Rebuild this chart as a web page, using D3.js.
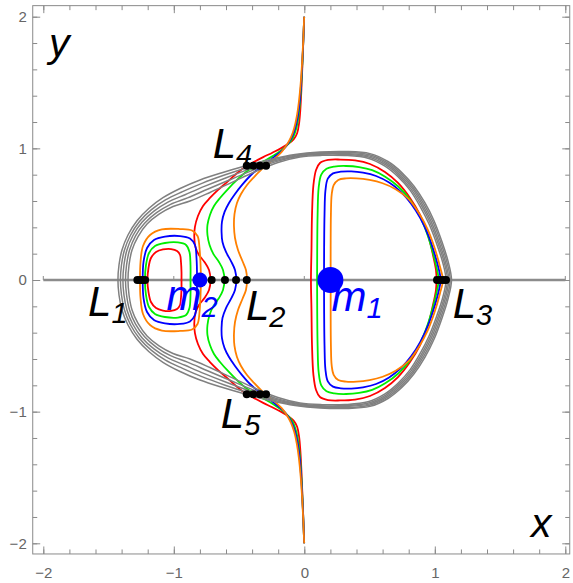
<!DOCTYPE html>
<html><head><meta charset="utf-8">
<script src="https://cdn.jsdelivr.net/npm/d3@7"></script>
<style>body{margin:0;background:#fff}</style>
</head><body>
<svg id="c" width="573" height="583"></svg>
<script>
// ---------- data (upper halves, y >= 0; the figure is symmetric about y = 0) ----------
const xTicks = [-2, -1, 0, 1, 2];
const yTicks = [-2, -1, 0, 1, 2];
const seriesColors = ["#ff0000", "#00ee00", "#0000ff", "#ff8000"];

const redD = [[0.051,0],[0.055,0.228],[0.059,0.494],[0.070,0.722],[0.090,0.836],[0.120,0.889],[0.182,0.912],[0.274,0.915],[0.389,0.908],[0.503,0.881],[0.618,0.820],[0.718,0.737],[0.810,0.623],[0.887,0.494],[0.948,0.342],[0.986,0.190],[1.009,0.076],[1.013,0]];
const greenD = [[0.098,0],[0.099,0.25],[0.102,0.5],[0.110,0.70],[0.13,0.80],[0.17,0.845],[0.23,0.862],[0.32,0.866],[0.42,0.858],[0.52,0.835],[0.62,0.785],[0.72,0.71],[0.81,0.61],[0.885,0.485],[0.945,0.34],[0.99,0.19],[1.018,0.075],[1.030,0]];
const blueD = [[0.151,0],[0.152,0.25],[0.155,0.5],[0.162,0.68],[0.18,0.77],[0.22,0.81],[0.28,0.823],[0.36,0.825],[0.45,0.815],[0.55,0.79],[0.65,0.74],[0.74,0.67],[0.82,0.578],[0.89,0.468],[0.952,0.335],[1.003,0.185],[1.033,0.072],[1.045,0]];
const orangeD = [[0.202,0],[0.202,0.25],[0.204,0.5],[0.210,0.65],[0.225,0.72],[0.26,0.76],[0.32,0.772],[0.40,0.772],[0.50,0.76],[0.60,0.735],[0.70,0.69],[0.80,0.615],[0.88,0.505],[0.945,0.385],[0.998,0.245],[1.04,0.10],[1.062,0]];

const redLoop = [[-1.202,0],[-1.194,0.091],[-1.175,0.167],[-1.136,0.213],[-1.083,0.232],[-1.021,0.235],[-0.975,0.220],[-0.952,0.190],[-0.945,0.137],[-0.941,0.061],[-0.941,0]];
const greenLoop = [[-1.221,0],[-1.213,0.114],[-1.190,0.205],[-1.144,0.258],[-1.068,0.281],[-0.968,0.285],[-0.906,0.266],[-0.880,0.213],[-0.872,0.114],[-0.872,0]];
const blueLoop = [[-1.238,0],[-1.232,0.137],[-1.205,0.243],[-1.152,0.304],[-1.068,0.330],[-0.952,0.334],[-0.876,0.315],[-0.838,0.266],[-0.826,0.167],[-0.822,0]];
const orangeLoop = [[-1.259,0],[-1.255,0.137],[-1.236,0.258],[-1.182,0.342],[-1.091,0.384],[-0.952,0.387],[-0.860,0.376],[-0.818,0.334],[-0.803,0.243],[-0.795,0.114],[-0.792,0]];

const redMid = [[-0.719,0],[-0.730,0.076],[-0.765,0.137],[-0.807,0.190],[-0.834,0.251],[-0.843,0.327],[-0.838,0.403],[-0.815,0.486],[-0.776,0.562],[-0.723,0.623],[-0.661,0.684],[-0.592,0.744],[-0.523,0.805],[-0.454,0.858],[-0.385,0.897],[-0.315,0.933],[-0.245,0.967],[-0.180,1.000],[-0.125,1.033],[-0.082,1.068],[-0.055,1.115],[-0.040,1.190],[-0.030,1.300],[-0.022,1.450],[-0.015,1.620],[-0.008,1.800],[-0.001,2.0]];
const greenMid = [[-0.612,0],[-0.623,0.076],[-0.654,0.137],[-0.696,0.197],[-0.726,0.266],[-0.742,0.342],[-0.742,0.418],[-0.723,0.494],[-0.692,0.562],[-0.646,0.623],[-0.585,0.691],[-0.516,0.760],[-0.447,0.820],[-0.378,0.866],[-0.305,0.905],[-0.235,0.945],[-0.170,0.990],[-0.120,1.035],[-0.085,1.085],[-0.062,1.150],[-0.045,1.240],[-0.032,1.360],[-0.022,1.500],[-0.014,1.660],[-0.007,1.830],[-0.001,2.0]];
const blueMid = [[-0.521,0],[-0.531,0.076],[-0.562,0.144],[-0.600,0.213],[-0.627,0.289],[-0.634,0.365],[-0.631,0.441],[-0.611,0.517],[-0.577,0.585],[-0.531,0.653],[-0.477,0.722],[-0.416,0.790],[-0.355,0.843],[-0.293,0.889],[-0.230,0.935],[-0.170,0.983],[-0.125,1.035],[-0.092,1.092],[-0.068,1.160],[-0.050,1.245],[-0.035,1.360],[-0.024,1.500],[-0.015,1.660],[-0.007,1.830],[-0.001,2.0]];
const orangeMid = [[-0.439,0],[-0.447,0.076],[-0.474,0.144],[-0.508,0.228],[-0.531,0.319],[-0.539,0.410],[-0.535,0.501],[-0.516,0.585],[-0.485,0.653],[-0.439,0.722],[-0.385,0.782],[-0.331,0.836],[-0.278,0.881],[-0.225,0.925],[-0.175,0.972],[-0.135,1.025],[-0.102,1.085],[-0.077,1.155],[-0.058,1.240],[-0.042,1.350],[-0.028,1.490],[-0.017,1.650],[-0.008,1.820],[-0.001,2.0]];

const gray1 = [[-1.428,0],[-1.420,0.114],[-1.397,0.228],[-1.351,0.342],[-1.282,0.450],[-1.190,0.545],[-1.083,0.625],[-0.952,0.695],[-0.799,0.760],[-0.631,0.815],[-0.454,0.866],[-0.263,0.915],[-0.071,0.953],[0.120,0.972],[0.312,0.976],[0.503,0.960],[0.641,0.900],[0.749,0.815],[0.841,0.712],[0.925,0.585],[0.994,0.450],[1.055,0.290],[1.101,0.145],[1.128,0]];
const gray2 = [[-1.409,0],[-1.401,0.114],[-1.378,0.228],[-1.332,0.340],[-1.263,0.444],[-1.171,0.534],[-1.064,0.608],[-0.933,0.671],[-0.780,0.736],[-0.612,0.797],[-0.435,0.855],[-0.248,0.910],[-0.062,0.949],[0.124,0.966],[0.312,0.969],[0.499,0.951],[0.635,0.891],[0.741,0.808],[0.833,0.705],[0.916,0.579],[0.985,0.444],[1.046,0.285],[1.092,0.140],[1.118,0]];
const gray3 = [[-1.390,0],[-1.382,0.114],[-1.359,0.228],[-1.313,0.338],[-1.244,0.438],[-1.152,0.523],[-1.045,0.592],[-0.914,0.648],[-0.761,0.713],[-0.593,0.779],[-0.416,0.844],[-0.233,0.904],[-0.052,0.944],[0.128,0.961],[0.312,0.961],[0.496,0.943],[0.630,0.883],[0.734,0.800],[0.826,0.698],[0.906,0.573],[0.975,0.438],[1.036,0.279],[1.082,0.135],[1.107,0]];
const gray4 = [[-1.370,0],[-1.362,0.114],[-1.339,0.228],[-1.293,0.336],[-1.224,0.431],[-1.132,0.511],[-1.025,0.575],[-0.895,0.624],[-0.742,0.689],[-0.573,0.760],[-0.397,0.833],[-0.217,0.899],[-0.043,0.940],[0.132,0.955],[0.312,0.954],[0.492,0.934],[0.624,0.874],[0.726,0.793],[0.818,0.690],[0.897,0.566],[0.966,0.431],[1.027,0.274],[1.073,0.130],[1.097,0]];
const gray5 = [[-1.351,0],[-1.343,0.114],[-1.320,0.228],[-1.274,0.330],[-1.205,0.425],[-1.113,0.500],[-1.006,0.558],[-0.876,0.600],[-0.723,0.665],[-0.554,0.742],[-0.378,0.822],[-0.202,0.893],[-0.033,0.935],[0.136,0.947],[0.312,0.946],[0.488,0.925],[0.618,0.865],[0.718,0.785],[0.810,0.683],[0.887,0.560],[0.956,0.425],[1.017,0.268],[1.063,0.125],[1.086,0]];

const pointsL1 = [[-1.279,0],[-1.259,0],[-1.238,0],[-1.220,0]];
const pointsL2 = [[-0.710,0],[-0.608,0],[-0.523,0],[-0.441,0]];
const pointsL3 = [[1.017,0],[1.040,0],[1.063,0],[1.086,0]];
const pointsL4 = [[-0.441,0.868],[-0.391,0.868],[-0.340,0.868],[-0.293,0.868]];
const pointsL5 = [[-0.441,-0.868],[-0.391,-0.868],[-0.340,-0.868],[-0.293,-0.868]];
const primaries = [{name:"m", sub:"1", x:0.2, y:0, r:13}, {name:"m", sub:"2", x:-0.8, y:0, r:7.5}];

const labels = [
  {t:"L", s:"1", x:-1.657, y:-0.273, c:"#000"},
  {t:"m", s:"2", x:-1.055, y:-0.228, c:"#0000ff"},
  {t:"L", s:"2", x:-0.447, y:-0.305, c:"#000"},
  {t:"m", s:"1", x:0.208, y:-0.238, c:"#0000ff"},
  {t:"L", s:"3", x:1.137, y:-0.289, c:"#000"},
  {t:"L", s:"4", x:-0.702, y:0.924, c:"#000"},
  {t:"L", s:"5", x:-0.640, y:-1.125, c:"#000"}
];

// ---------- drawing ----------
const svg = d3.select("#c");
const x = d3.scaleLinear().domain([-2, 2]).range([43.3, 565.3]);
const y = d3.scaleLinear().domain([-2, 2]).range([543.3, 16.7]);
const fx = [-2.081, 2.034], fy = [-2.081, 2.084];
const frameColor = "#8a8a8a";

svg.append("defs").append("clipPath").attr("id","clip").append("rect")
  .attr("x", x(fx[0])).attr("y", y(fy[1])).attr("width", x(fx[1]) - x(fx[0])).attr("height", y(fy[0]) - y(fy[1]));

const minor = d3.range(-2, 2.001, 0.2).map(v => +v.toFixed(2));
function axisG(gen, tr, len, vals, labelsOn) {
  const g = svg.append("g").attr("transform", tr)
    .call(gen.tickValues(vals).tickSize(len).tickSizeOuter(0).tickPadding(6)
      .tickFormat(labelsOn ? d3.format("d") : ""));
  g.select(".domain").remove();
  g.selectAll(".tick line").attr("stroke", frameColor).attr("stroke-width", 1);
  g.selectAll(".tick text").attr("fill", "#666").attr("font-size", 15).attr("font-family", "Liberation Sans, Arial, sans-serif");
  return g;
}
const bottomT = `translate(0,${y(fy[0])})`, topT = `translate(0,${y(fy[1])})`;
const leftT = `translate(${x(fx[0])},0)`, rightT = `translate(${x(fx[1])},0)`;
axisG(d3.axisBottom(x), bottomT, -4.5, minor, false);
axisG(d3.axisBottom(x), bottomT, -7.5, xTicks, true).selectAll(".tick text").attr("dy", "1.2em");
axisG(d3.axisTop(x), topT, -4.5, minor, false);
axisG(d3.axisTop(x), topT, -7.5, xTicks, false);
axisG(d3.axisLeft(y), leftT, -4.5, minor, false);
axisG(d3.axisLeft(y), leftT, -7.5, yTicks, true);
axisG(d3.axisRight(y), rightT, -4.5, minor, false);
axisG(d3.axisRight(y), rightT, -7.5, yTicks, false);

svg.append("rect").attr("x", x(fx[0])).attr("y", y(fy[1]))
  .attr("width", x(fx[1]) - x(fx[0])).attr("height", y(fy[0]) - y(fy[1]))
  .attr("fill", "none").attr("stroke", frameColor).attr("stroke-width", 1);

const plot = svg.append("g").attr("clip-path", "url(#clip)");

// x axis line at y = 0
plot.append("line").attr("x1", x(-2)).attr("x2", x(2)).attr("y1", y(0)).attr("y2", y(0))
  .attr("stroke", "#8c8c8c").attr("stroke-width", 2.4);
plot.selectAll(".axtick").data(xTicks).join("line")
  .attr("x1", d => x(d)).attr("x2", d => x(d)).attr("y1", y(0) - 4).attr("y2", y(0))
  .attr("stroke", "#8c8c8c").attr("stroke-width", 1);

const closed = up => up.concat(up.slice(1, -1).reverse().map(([a, b]) => [a, -b]));
const open = up => up.slice().reverse().concat(up.slice(1).map(([a, b]) => [a, -b]));
const lineC = d3.line().x(d => x(d[0])).y(d => y(d[1])).curve(d3.curveCatmullRomClosed.alpha(0.5));
const lineO = d3.line().x(d => x(d[0])).y(d => y(d[1])).curve(d3.curveCatmullRom.alpha(0.5));

const colored = [
  [redD, redLoop, redMid], [greenD, greenLoop, greenMid],
  [blueD, blueLoop, blueMid], [orangeD, orangeLoop, orangeMid]
];
colored.forEach(([dc, lc, mc], i) => {
  const c = seriesColors[i];
  plot.append("path").attr("d", lineC(closed(dc))).attr("fill", "none").attr("stroke", c).attr("stroke-width", 1.8);
  plot.append("path").attr("d", lineC(closed(lc))).attr("fill", "none").attr("stroke", c).attr("stroke-width", 1.8);
  plot.append("path").attr("d", lineO(open(mc))).attr("fill", "none").attr("stroke", c).attr("stroke-width", 1.8);
});
[gray1, gray2, gray3, gray4, gray5].forEach(g => {
  plot.append("path").attr("d", lineC(closed(g))).attr("fill", "none").attr("stroke", "#808080").attr("stroke-width", 1.5);
});

// equilibrium points
plot.selectAll(".lp").data([].concat(pointsL1, pointsL2, pointsL3, pointsL4, pointsL5)).join("circle")
  .attr("cx", p => x(p[0])).attr("cy", p => y(p[1])).attr("r", 4).attr("fill", "#000");
plot.selectAll(".pm").data(primaries).join("circle")
  .attr("cx", p => x(p.x)).attr("cy", p => y(p.y)).attr("r", p => p.r).attr("fill", "#0000ff");

// labels
const font = "Liberation Sans, Arial, sans-serif";
labels.forEach(L => {
  const t = svg.append("text").attr("x", x(L.x)).attr("y", y(L.y)).attr("fill", L.c)
    .attr("font-family", font).attr("font-style", "italic").attr("font-size", 42);
  t.append("tspan").text(L.t);
  t.append("tspan").text(L.s).attr("font-size", 29).attr("dy", 7);
});
svg.append("text").attr("x", 49).attr("y", 57).text("y")
  .attr("font-family", font).attr("font-style", "italic").attr("font-size", 41);
svg.append("text").attr("x", 531).attr("y", 537).text("x")
  .attr("font-family", font).attr("font-style", "italic").attr("font-size", 41);
</script>
</body></html>
